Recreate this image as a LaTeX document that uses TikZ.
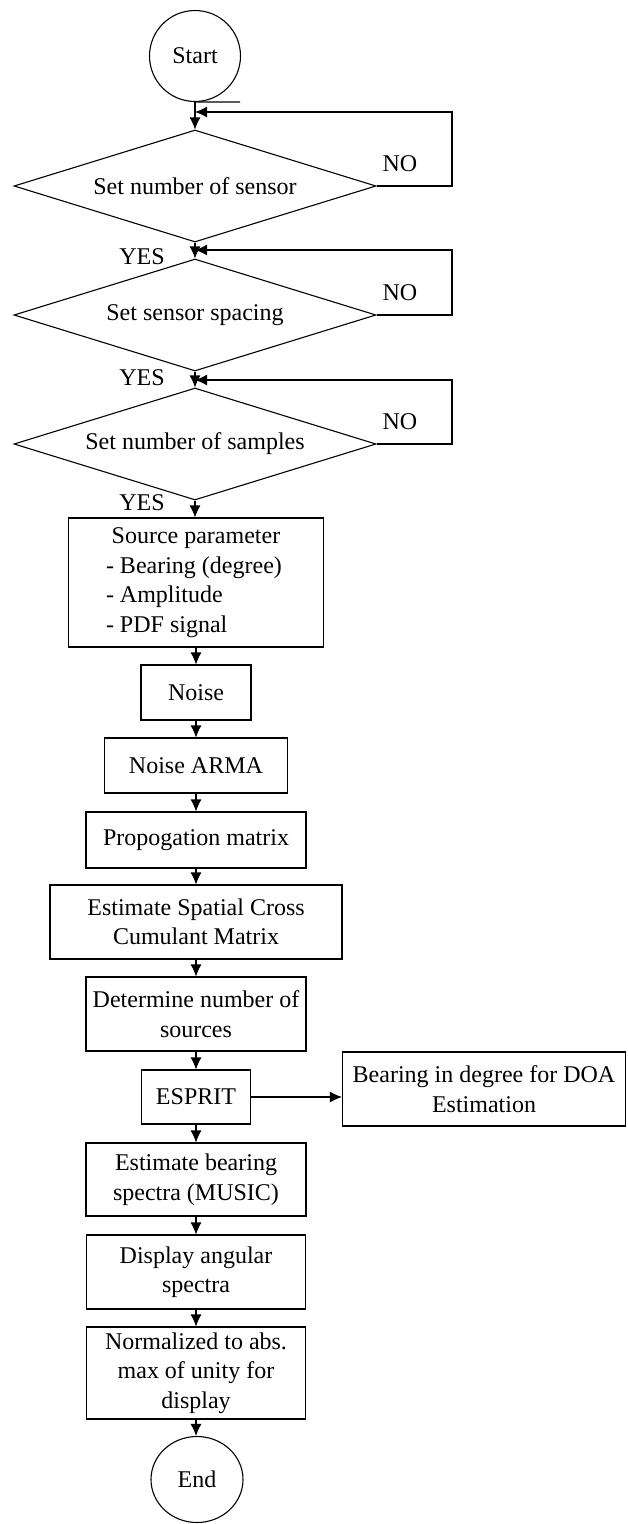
\documentclass[tikz,border=0pt]{standalone}
\usepackage{fontspec}
\setmainfont{Liberation Serif}
\usetikzlibrary{shapes.geometric,arrows.meta}
\begin{document}
\begin{tikzpicture}[x=1pt,y=-1pt,
  every node/.style={font=\fontsize{24}{29.5}\selectfont},
  flowbox/.style={draw,line width=1.1pt,rectangle,align=center,inner sep=0pt},
  decision/.style={draw,line width=1.1pt,diamond,shape aspect=3.23,inner sep=0pt,minimum width=362pt,minimum height=112pt},
  terminal/.style={draw,line width=1.1pt,circle,inner sep=0pt},
  lbl/.style={inner sep=0pt},
  arr/.style={line width=1.1pt,-{Latex[length=12pt,width=11pt]}},
  ln/.style={line width=1.1pt}]
\useasboundingbox (0,0) rectangle (627,1524);
\node[terminal,minimum size=91pt] (start) at (195,56) {Start};
\node[decision] (d1) at (195,186) {Set number of sensor};
\node[decision] (d2) at (195,315) {Set sensor spacing};
\node[decision] (d3) at (195,444) {Set number of samples};
\node[flowbox,minimum width=255pt,minimum height=129pt] (src) at (196,582.5) {Source parameter\\\parbox[t]{180pt}{\raggedright - Bearing (degree)\\- Amplitude\\- PDF signal}};
\node[flowbox,minimum width=110pt,minimum height=55pt] (noise) at (196,692.5) {Noise};
\node[flowbox,minimum width=183pt,minimum height=55pt] (arma) at (196,765.5) {Noise ARMA};
\node[flowbox,minimum width=220pt,minimum height=56pt] (prop) at (196,840) {Propogation matrix};
\node[flowbox,minimum width=292pt,minimum height=74pt] (spat) at (196,922) {Estimate Spatial Cross\\Cumulant Matrix};
\node[flowbox,minimum width=220pt,minimum height=74pt] (det) at (196,1014) {Determine number of\\sources};
\node[flowbox,minimum width=109pt,minimum height=54pt] (esprit) at (196,1097) {ESPRIT};
\node[flowbox,minimum width=283pt,minimum height=74pt] (bear) at (484,1089) {Bearing in degree for DOA\\Estimation};
\node[flowbox,minimum width=220pt,minimum height=73pt] (music) at (196,1179.5) {Estimate bearing\\spectra (MUSIC)};
\node[flowbox,minimum width=219pt,minimum height=74pt] (disp) at (196,1272) {Display angular\\spectra};
\node[flowbox,minimum width=219pt,minimum height=92pt] (norm) at (196,1373) {Normalized to abs.\\max of unity for\\display};
\node[draw,line width=1.1pt,ellipse,inner sep=0pt,minimum width=92pt,minimum height=86pt] (end) at (197,1479.5) {End};
% labels
\node[lbl] (no1) at (400,164) {NO};
\node[lbl] (no2) at (400,293) {NO};
\node[lbl] (no3) at (400,422) {NO};
\node[lbl] (yes1) at (142,257) {YES};
\node[lbl] (yes2) at (142,378) {YES};
\node[lbl] (yes3) at (142,503) {YES};
% coordinates
\coordinate (stray) at (240,102);
\coordinate (l1) at (452,112);
\coordinate (l2) at (452,250);
\coordinate (l3) at (452,380);
% connectors
\draw[ln] (start.south) -- (stray);
\draw[arr] (start.south) -- (d1.north);
\draw[arr] (d1.east) -| (l1) -- (l1 -| d1.north);
\draw[arr] (d1.south) -- (d2.north);
\draw[arr] (d2.east) -| (l2) -- (l2 -| d2.north);
\draw[arr] (d2.south) -- (d3.north);
\draw[arr] (d3.east) -| (l3) -- (l3 -| d3.north);
\draw[arr] (d3.south) -- (d3.south |- src.north);
\draw[arr] (src.south) -- (noise.north);
\draw[arr] (noise.south) -- (arma.north);
\draw[arr] (arma.south) -- (prop.north);
\draw[arr] (prop.south) -- (spat.north);
\draw[arr] (spat.south) -- (det.north);
\draw[arr] (det.south) -- (esprit.north);
\draw[arr] (esprit.east) -- (esprit.east -| bear.west);
\draw[arr] (esprit.south) -- (music.north);
\draw[arr] (music.south) -- (disp.north);
\draw[arr] (disp.south) -- (norm.north);
\draw[arr] (norm.south) -- (norm.south |- end.north);
\end{tikzpicture}
\end{document}
